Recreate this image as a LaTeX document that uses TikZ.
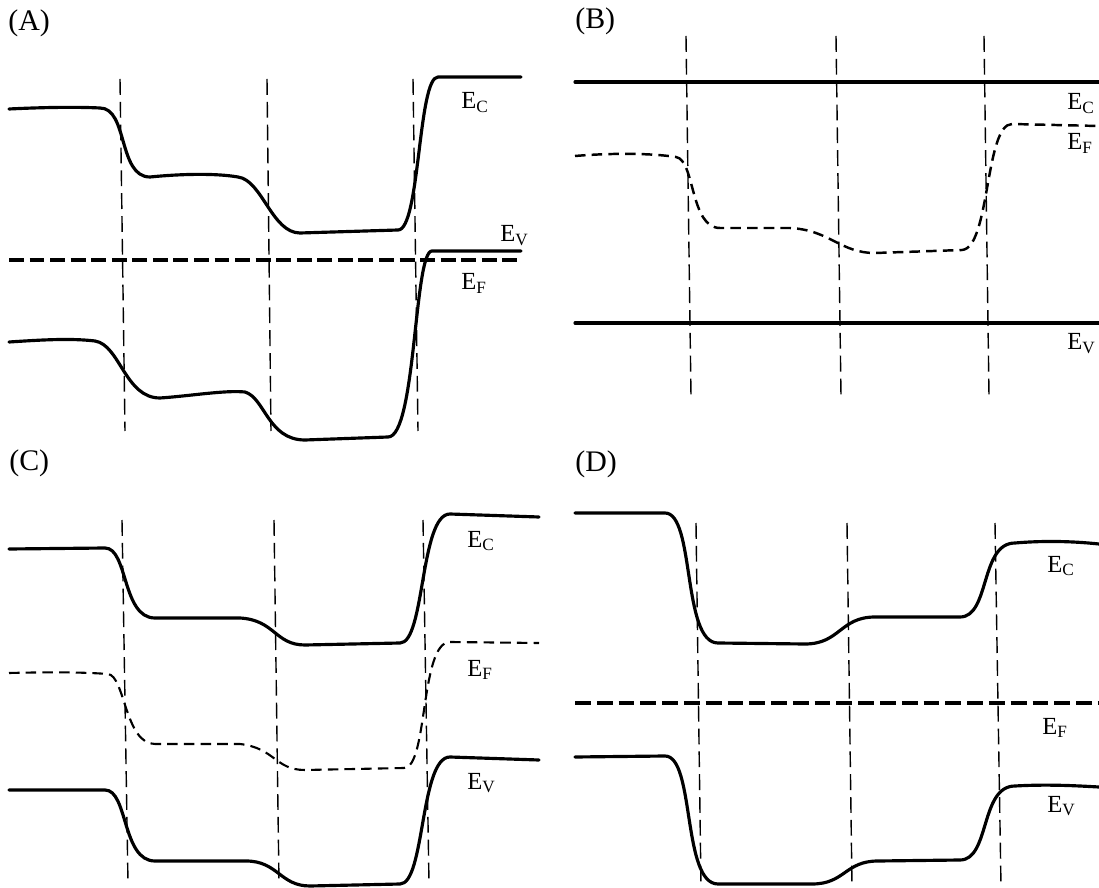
\documentclass[tikz,border=0pt]{standalone}
\usepackage{fontspec}
\setmainfont{Liberation Serif}
\usepackage{tikz}

\begin{document}
\begin{tikzpicture}[
    x=0.02cm, y=-0.02cm,
    band/.style={line width=1.8pt, line join=round, line cap=round},
    fermi/.style={line width=1.8pt, dash pattern=on 8.5pt off 3.2pt},
    fermic/.style={line width=1.2pt, dash pattern=on 6pt off 3.5pt},
    iface/.style={line width=0.8pt, dash pattern=on 9pt off 4pt},
    lbl/.style={anchor=base west, inner sep=0pt, font=\fontsize{14}{16}\selectfont},
    tag/.style={anchor=base west, inner sep=0pt, font=\fontsize{17}{20}\selectfont},
]
\useasboundingbox (0,0) rectangle (1099,888);

% panel labels
\node[tag] (tA) at (8,31) {(A)};
\node[tag] (tB) at (575,29) {(B)};
\node[tag] (tC) at (9,471) {(C)};
\node[tag] (tD) at (575,472) {(D)};

% (A)
\foreach \xa/\xb in {120/125, 267/271, 413/418}{
  \draw[iface] (\xa,79) -- (\xb,431);
}
\draw[band] (9,109) .. controls (50,107) and (80,107) .. (100,108)
  .. controls (128,108) and (118,177) .. (150,177)
  .. controls (180,174) and (215,173) .. (238,177)
  .. controls (262,180) and (272,233) .. (300,233)
  -- (398,230)
  .. controls (420,230) and (418,77) .. (438,77) -- (521,77);
\draw[band] (9,342) .. controls (40,340) and (70,338) .. (95,341)
  .. controls (120,345) and (125,398) .. (160,398)
  .. controls (190,396) and (225,390) .. (245,392)
  .. controls (265,398) and (268,440) .. (305,440)
  -- (388,437)
  .. controls (416,437) and (414,251) .. (432,251) -- (521,251);
\draw[fermi] (9,260) -- (521,260);
\node[lbl] (ecA) at (461,109) {E\textsubscript{C}};
\node[lbl] (evA) at (500,242) {E\textsubscript{V}};
\node[lbl] (efA) at (461,290) {E\textsubscript{F}};

% (B)
\foreach \xa/\xb in {686/691, 836/841, 984/989}{
  \draw[iface] (\xa,36) -- (\xb,396);
}
\draw[band] (575,82) -- (1099,82);
\draw[band] (575,323) -- (1099,323);
\draw[fermic, line width=1.4pt] (575,156) .. controls (610,153) and (650,153) .. (676,157)
  .. controls (695,160) and (690,228) .. (720,228)
  -- (790,228)
  .. controls (830,230) and (840,253) .. (875,253)
  -- (962,250)
  .. controls (990,248) and (985,124) .. (1012,124) -- (1099,126);
\node[lbl] (ecB) at (1067,110) {E\textsubscript{C}};
\node[lbl] (efB) at (1067,150) {E\textsubscript{F}};
\node[lbl] (evB) at (1067,350) {E\textsubscript{V}};

% (C)
\foreach \xa/\xb in {122/128, 274/279, 423/429}{
  \draw[iface] (\xa,520) -- (\xb,883);
}
\draw[band] (9,549) -- (105,548)
  .. controls (128,548) and (122,618) .. (155,618)
  -- (240,618)
  .. controls (275,620) and (275,645) .. (305,645)
  -- (400,643)
  .. controls (425,643) and (420,514) .. (450,514) -- (539,517);
\draw[fermic] (9,673) .. controls (50,672) and (80,672) .. (108,674)
  .. controls (125,676) and (125,744) .. (155,744)
  -- (240,744)
  .. controls (275,748) and (275,770) .. (305,770)
  -- (404,768)
  .. controls (428,768) and (420,642) .. (450,642) -- (539,643);
\draw[band] (9,790) -- (105,790)
  .. controls (128,790) and (122,861) .. (155,861)
  -- (246,861)
  .. controls (278,861) and (280,886) .. (310,886)
  -- (400,884)
  .. controls (425,884) and (420,757) .. (450,757) -- (539,760);
\node[lbl] (ecC) at (467,547) {E\textsubscript{C}};
\node[lbl] (efC) at (467,676) {E\textsubscript{F}};
\node[lbl] (evC) at (467,789) {E\textsubscript{V}};

% (D)
\foreach \xa/\xb in {696/701, 847/852, 995/1001}{
  \draw[iface] (\xa,523) -- (\xb,886);
}
\draw[band] (575,513) -- (665,513)
  .. controls (695,513) and (682,643) .. (718,643)
  -- (805,644)
  .. controls (840,644) and (840,617) .. (875,617)
  -- (960,617)
  .. controls (990,617) and (980,543) .. (1015,543)
  .. controls (1050,540) and (1080,542) .. (1099,544);
\draw[fermi, dash pattern=on 9pt off 3.4pt] (575,703) -- (1099,703);
\draw[band] (575,757) -- (665,756)
  .. controls (695,756) and (682,884) .. (718,884)
  -- (812,884)
  .. controls (845,884) and (845,861) .. (878,861)
  -- (960,860)
  .. controls (990,860) and (980,786) .. (1015,786)
  .. controls (1050,784) and (1080,786) .. (1099,787);
\node[lbl] (ecD) at (1047,572) {E\textsubscript{C}};
\node[lbl] (efD) at (1042,734) {E\textsubscript{F}};
\node[lbl] (evD) at (1047,812) {E\textsubscript{V}};
\end{tikzpicture}
\end{document}
